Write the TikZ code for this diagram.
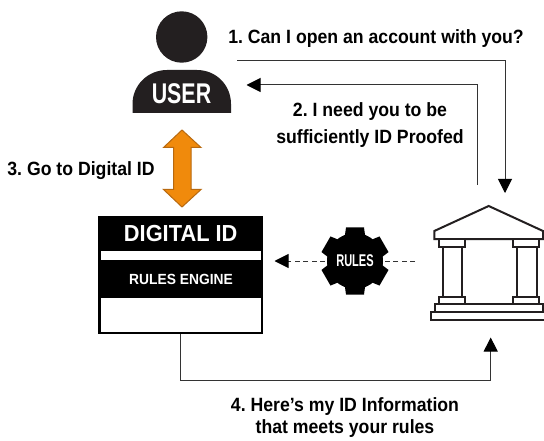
\documentclass[tikz,border=0pt]{standalone}
\usepackage{fontspec}
\setmainfont{Liberation Sans}
\newfontfamily\labfont[FakeStretch=0.94]{Liberation Sans}
\newfontfamily\capfont[FakeStretch=0.92]{Liberation Sans}
\newfontfamily\narrowfont[FakeStretch=0.75]{Liberation Sans}
\newfontfamily\gearfont[FakeStretch=0.65]{Liberation Sans}
\usetikzlibrary{arrows.meta}
\definecolor{ink}{HTML}{231F20}
\definecolor{lineink}{HTML}{333333}
\definecolor{orangefill}{HTML}{F08A0C}
\definecolor{orangeedge}{HTML}{B8690F}
\tikzset{
  caption/.style={font=\frenchspacing\capfont\bfseries\fontsize{19.2}{27}\selectfont,text=black,align=center,inner sep=0pt},
  conn/.style={draw=lineink,line width=1pt},
  arr/.style={conn,-{Triangle[length=14pt,width=14pt,color=black]}},
  dashconn/.style={conn,dash pattern=on 5pt off 3.5pt},
  bankpart/.style={draw=ink,line width=2pt,fill=white,line join=miter},
  boxpart/.style={fill=black,draw=none}
}
\begin{document}
\begin{tikzpicture}[x=1pt,y=-1pt]
\useasboundingbox (0,0) rectangle (544,441);
\clip (0,0) rectangle (544,441);
% user
\fill[ink] (181.7,37) circle (25.7);
\fill[ink] (132.5,113) -- (132.5,104) .. controls (132.5,85) and (148,70) .. (167,70) -- (197,70) .. controls (216,70) and (231,85) .. (231,104) -- (231,113) -- cycle;
\node[text=white,font=\narrowfont\bfseries\fontsize{28.5}{28.5}\selectfont,inner sep=0pt] (user) at (181.5,93.5) {USER};
\coordinate (userR) at (246.5,85);
% orange double arrow
\path[fill=orangefill,draw=orangeedge,line width=1pt,line join=miter]
 (182,130) -- (201,147.5) -- (191,147.5) -- (191,189.5) -- (201,189.5) -- (182,207) -- (163.5,189.5) -- (173.5,189.5) -- (173.5,147.5) -- (163.5,147.5) -- cycle;
% digital id box
\node[boxpart,minimum width=165.5pt,minimum height=118pt,inner sep=0pt] (idbox) at (180.7,275) {};
\fill[white] (101,251) rectangle (261,260);
\fill[white] (101,298) rectangle (261,332);
\node[text=white,font=\labfont\bfseries\fontsize{23.2}{24}\selectfont,inner sep=0pt] (idtitle) at (180.7,233.5) {DIGITAL ID};
\node[text=white,font=\labfont\bfseries\fontsize{14.7}{15}\selectfont,inner sep=0pt] (idrules) at (181,279.5) {RULES ENGINE};
% gear
\fill[black] (355,261) circle (28);
\foreach \a in {30,90,...,330}{
  \fill[black,rotate around={\a:(355,261)}] (374,250) -- (388.5,252) -- (388.5,270) -- (374,272) -- cycle;
}
\node[text=white,font=\gearfont\bfseries\fontsize{17}{17}\selectfont,inner sep=0pt] (gear) at (355,261) {RULES};
% bank
\draw[bankpart] (488.7,206) -- (543,231) -- (543,239) -- (434.3,239) -- (434.3,231) -- cycle;
\draw[bankpart] (442.5,247) rectangle (462,298);
\draw[bankpart] (516.8,247) rectangle (536.5,298);
\draw[bankpart] (438.7,239) rectangle (464.5,247);
\draw[bankpart] (513.3,239) rectangle (539,247);
\draw[bankpart] (438.7,297) rectangle (464.5,304);
\draw[bankpart] (513.3,297) rectangle (539,304);
\draw[bankpart] (434.5,304) rectangle (543,311.5);
\draw[bankpart] (430.7,311.5) rectangle (548,319.5);
\coordinate (bankTop) at (505,193);
\coordinate (bankBottom) at (490.7,337.5);
\coordinate (bankLeft) at (415,261);
% connectors
\coordinate (s1) at (237,60.5);
\coordinate (s2) at (477,185);
\coordinate (gearR) at (385,261);
\coordinate (gearL) at (325,261);
\coordinate (idR) at (274.5,261);
\coordinate (idDown) at (180.5,334);
\draw[arr] (s1) -| (bankTop);
\draw[arr] (s2) |- (userR);
\draw[arr] (idDown) |- (300,380.5) -| (bankBottom);
\draw[dashconn] (bankLeft) -- (gearR);
\draw[dashconn,-{Triangle[length=14pt,width=14pt,color=black]}] (gearL) -- (idR);
% captions
\node[caption] (c1) at (376,38.5) {1. Can I open an account with you?};
\node[caption] (c2) at (370,125) {2. I need you to be\\sufficiently ID Proofed};
\node[caption] (c3) at (81,170.5) {3. Go to Digital ID};
\node[caption,font=\frenchspacing\capfont\bfseries\fontsize{19.2}{22}\selectfont] (c4) at (345,417.5) {4. Here’s my ID Information\\that meets your rules};
\end{tikzpicture}
\end{document}
